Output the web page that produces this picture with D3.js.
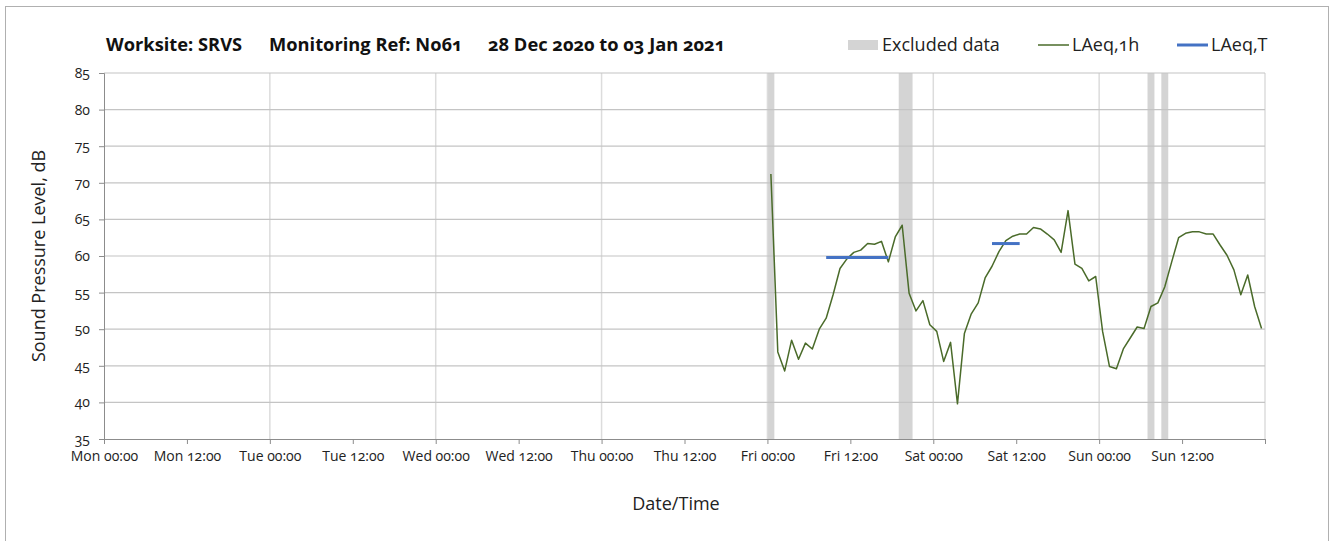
<!DOCTYPE html>
<html>
<head>
<meta charset="utf-8">
<script src="https://cdn.jsdelivr.net/npm/d3@7"></script>
<style>
  body { margin: 0; background: #fff; }
  svg { display: block; font-family: "Open Sans", sans-serif; font-variant-numeric: oldstyle-nums; }
</style>
</head>
<body>
<svg id="chart" width="1334" height="541"></svg>
<script>
// title pieces
const titleParts = ["Worksite: SRVS", "Monitoring Ref: No61", "28 Dec 2020 to 03 Jan 2021"];

// x range: one monitoring week
const weekStart = new Date(2020, 11, 28, 0, 0);
const weekEnd = new Date(2021, 0, 4, 0, 0);

// hourly LAeq,1h, first value is Fri 01 Jan 00:00-01:00 (plotted mid hour)
const firstHour = new Date(2021, 0, 1, 0, 0);
const laeq1h = [
  71.2, 46.9, 44.3, 48.5, 45.9, 48.1, 47.3, 50.0, 51.5, 54.7, 58.3, 59.6,
  60.5, 60.8, 61.7, 61.6, 62.0, 59.2, 62.6, 64.2, 54.9, 52.5, 53.9, 50.6,
  49.7, 45.6, 48.2, 39.8, 49.4, 52.1, 53.6, 57.0, 58.6, 60.6, 62.1, 62.7,
  63.0, 63.0, 63.9, 63.7, 63.0, 62.2, 60.5, 66.2, 58.9, 58.3, 56.6, 57.2,
  49.7, 44.9, 44.6, 47.3, 48.8, 50.3, 50.1, 53.1, 53.6, 55.8, 59.2, 62.5,
  63.1, 63.3, 63.3, 63.0, 63.0, 61.5, 60.1, 58.1, 54.7, 57.4, 53.1, 50.1
];

// excluded periods [start, end]
const excluded = [
  [new Date(2021, 0, 1, 0), new Date(2021, 0, 1, 1)],
  [new Date(2021, 0, 1, 19), new Date(2021, 0, 1, 21)],
  [new Date(2021, 0, 3, 7), new Date(2021, 0, 3, 8)],
  [new Date(2021, 0, 3, 9), new Date(2021, 0, 3, 10)]
];

// LAeq,T periods
const laeqTStart = [new Date(2021, 0, 1, 8, 30), new Date(2021, 0, 2, 8, 30)];
const laeqTEnd = [new Date(2021, 0, 1, 17, 30), new Date(2021, 0, 2, 12, 30)];
const laeqTValue = [59.8, 61.7];

const yTicks = [35, 40, 45, 50, 55, 60, 65, 70, 75, 80, 85];

const svg = d3.select("#chart");
const margin = { left: 104, right: 1265, top: 73, bottom: 439 };

// outer frame
svg.append("rect")
  .attr("x", 5.5).attr("y", 6.5)
  .attr("width", 1323).attr("height", 560)
  .attr("fill", "none").attr("stroke", "#b0b0b0");

const x = d3.scaleTime().domain([weekStart, weekEnd]).range([margin.left, margin.right]);
const y = d3.scaleLinear().domain([35, 85]).range([margin.bottom, margin.top]);

const hourMs = 3600 * 1000;
const series = laeq1h.map((v, i) => ({ t: new Date(+firstHour + (i + 0.5) * hourMs), v }));

// excluded bands
svg.append("g").selectAll("rect")
  .data(excluded)
  .join("rect")
    .attr("x", d => x(d[0]))
    .attr("width", d => x(d[1]) - x(d[0]))
    .attr("y", margin.top)
    .attr("height", margin.bottom - margin.top)
    .attr("fill", "#d4d4d4");

// vertical gridlines at midnight
const days = d3.timeDay.range(d3.timeDay.offset(weekStart, 1), d3.timeDay.offset(weekEnd, 1));
svg.append("g").selectAll("line")
  .data(days)
  .join("line")
    .attr("x1", d => x(d)).attr("x2", d => x(d))
    .attr("y1", margin.top).attr("y2", margin.bottom)
    .attr("stroke", "#dcdcdc").attr("stroke-width", 1.5);

// horizontal gridlines
svg.append("g").selectAll("line")
  .data(yTicks.filter(d => d > 35))
  .join("line")
    .attr("x1", margin.left).attr("x2", margin.right)
    .attr("y1", d => y(d)).attr("y2", d => y(d))
    .attr("stroke", "#c4c4c4").attr("stroke-width", 1.2);

// y axis
const yAxis = svg.append("g")
  .attr("transform", `translate(${margin.left},0)`)
  .call(d3.axisLeft(y).tickValues(yTicks).tickSize(5).tickPadding(9));
yAxis.select(".domain").attr("stroke", "#8c8c8c");
yAxis.selectAll(".tick line").attr("stroke", "#8c8c8c");
yAxis.selectAll("text").attr("font-size", 14).attr("fill", "#222")
  .attr("font-family", "Open Sans, sans-serif");

// x axis, ticks every 12 hours
const xAxis = svg.append("g")
  .attr("transform", `translate(0,${margin.bottom})`)
  .call(d3.axisBottom(x)
    .ticks(d3.timeHour.every(12))
    .tickFormat(d => d >= weekEnd ? "" : d3.timeFormat("%a %H:%M")(d))
    .tickSize(5).tickPadding(7));
xAxis.select(".domain").attr("stroke", "#8c8c8c");
xAxis.selectAll(".tick line").attr("stroke", "#8c8c8c");
xAxis.selectAll("text").attr("font-size", 14).attr("fill", "#222")
  .attr("font-family", "Open Sans, sans-serif");

// LAeq,1h line
svg.append("path")
  .datum(series)
  .attr("fill", "none")
  .attr("stroke", "#4a6b2a")
  .attr("stroke-width", 1.5)
  .attr("stroke-linejoin", "round")
  .attr("d", d3.line().x(d => x(d.t)).y(d => y(d.v)));

// LAeq,T segments
svg.append("g").selectAll("line")
  .data(laeqTValue)
  .join("line")
    .attr("x1", (d, i) => x(laeqTStart[i]))
    .attr("x2", (d, i) => x(laeqTEnd[i]))
    .attr("y1", d => y(d)).attr("y2", d => y(d))
    .attr("stroke", "#4472c4").attr("stroke-width", 3);

// title
const titleX = [106, 269, 488];
svg.append("g").selectAll("text")
  .data(titleParts)
  .join("text")
    .attr("x", (d, i) => titleX[i])
    .attr("y", 51)
    .attr("font-size", 18.3)
    .attr("font-weight", "bold")
    .attr("fill", "#111")
    .text(d => d);

// legend
const legend = svg.append("g");
legend.append("rect").attr("x", 848).attr("y", 40).attr("width", 30).attr("height", 10).attr("fill", "#d4d4d4");
legend.append("text").attr("x", 882).attr("y", 51).attr("font-size", 18).attr("fill", "#222").text("Excluded data");
legend.append("line").attr("x1", 1038).attr("x2", 1069).attr("y1", 45).attr("y2", 45)
  .attr("stroke", "#4a6b2a").attr("stroke-width", 1.5);
legend.append("text").attr("x", 1072).attr("y", 51).attr("font-size", 18).attr("fill", "#222").text("LAeq,1h");
legend.append("line").attr("x1", 1177).attr("x2", 1208).attr("y1", 45).attr("y2", 45)
  .attr("stroke", "#4472c4").attr("stroke-width", 3);
legend.append("text").attr("x", 1211).attr("y", 51).attr("font-size", 18).attr("fill", "#222").text("LAeq,T");

// axis titles
svg.append("text")
  .attr("transform", `translate(45,${(margin.top + margin.bottom) / 2}) rotate(-90)`)
  .attr("text-anchor", "middle")
  .attr("font-size", 18).attr("fill", "#222")
  .text("Sound Pressure Level, dB");

svg.append("text")
  .attr("x", 676).attr("y", 510)
  .attr("text-anchor", "middle")
  .attr("font-size", 18).attr("fill", "#222")
  .text("Date/Time");
</script>
</body>
</html>
